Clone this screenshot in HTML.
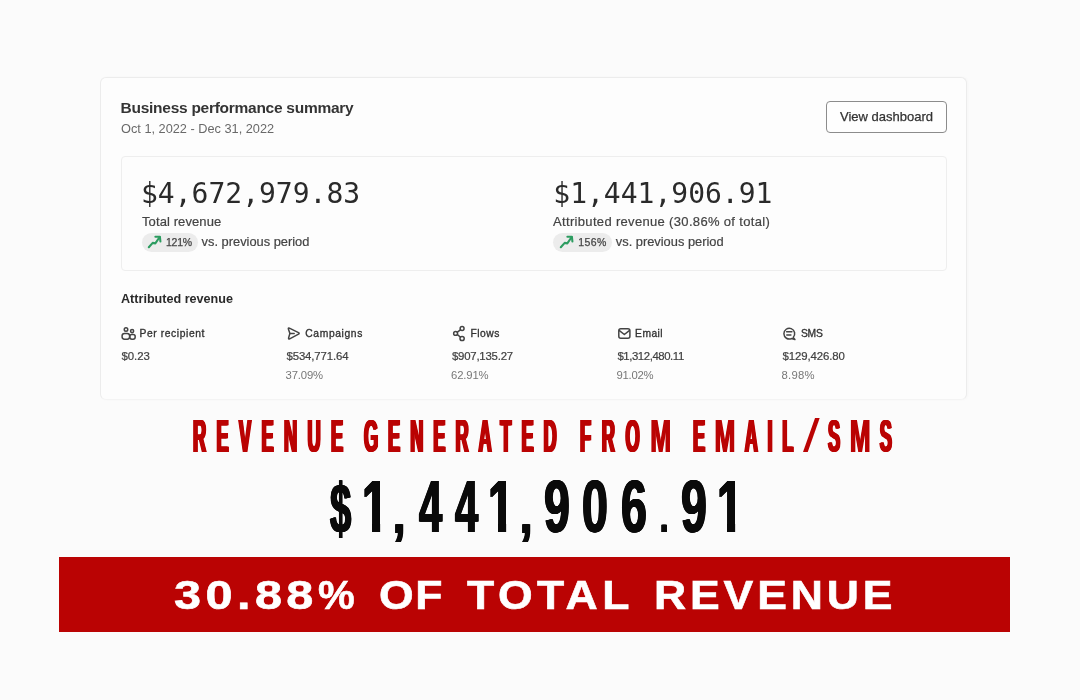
<!DOCTYPE html>
<html lang="en">
<head>
<meta charset="utf-8">
<title>Business performance summary</title>
<style>
  html, body { margin: 0; padding: 0; }
  body {
    width: 1080px; height: 700px; overflow: hidden; position: relative;
    background: #fbfbfb;
    font-family: "Liberation Sans", sans-serif;
    color: #2b2b2b;
  }
  .abs { position: absolute; white-space: nowrap; line-height: 1; }

  /* ---------- dashboard card ---------- */
  .card {
    position: absolute; left: 100px; top: 77px; width: 867px; height: 323px;
    box-sizing: border-box;
    background: #fdfdfd; border: 1px solid #ececec; border-bottom-color: #f4f4f4; border-radius: 6px;
    box-shadow: 1px 0 3px rgba(0,0,0,0.025);
  }
  .title { left: 120.6px; top: 99.7px; font-size: 15.5px; letter-spacing: -0.27px; font-weight: bold; color: #343434; }
  .dates { left: 121px; top: 122.5px; font-size: 12.75px; color: #696969; }
  .btn {
    position: absolute; left: 826px; top: 101px; width: 121px; height: 32px;
    box-sizing: border-box; border: 1px solid #8c8c8c; border-radius: 4px;
    background: #fefefe; color: #333; font-size: 13px; text-align: center; line-height: 30px;
    -webkit-text-stroke: 0.25px #333;
  }
  .inner {
    position: absolute; left: 121px; top: 156px; width: 826px; height: 115px;
    box-sizing: border-box; border: 1px solid #eeeeee; border-radius: 4px;
  }
  .big {
    font-family: "DejaVu Sans Mono", "Liberation Mono", monospace;
    font-size: 28px; color: #2a2a2a; top: 179.6px;
  }
  .lbl { font-size: 13px; letter-spacing: 0.1px; color: #444; top: 215px; -webkit-text-stroke: 0.2px #444; }
  .pill {
    position: absolute; top: 232.8px; width: 56.3px; height: 18.8px;
    border-radius: 9.4px; background: #ececec;
  }
  .pct { font-size: 10.5px; color: #454545; top: 237.3px; letter-spacing: -0.25px; -webkit-text-stroke: 0.25px #454545; }
  .vs  { font-size: 12.85px; color: #444; top: 236px; -webkit-text-stroke: 0.2px #444; }

  .sect { left: 121px; top: 292.7px; font-size: 12.6px; font-weight: bold; color: #2a2a2a; }
  .col-h { font-size: 10.3px; letter-spacing: 0.7px; color: #333; top: 328.9px; -webkit-text-stroke: 0.32px #333; }
  .col-v { font-size: 11.4px; color: #404040; top: 351.2px; -webkit-text-stroke: 0.2px #404040; }
  .col-p { font-size: 11.3px; color: #777; top: 370px; }

  .icons { position: absolute; left: 0; top: 0; width: 1080px; height: 700px; pointer-events: none; }
  .icons .ic { fill: none; stroke: #444; stroke-width: 1.5; stroke-linecap: round; stroke-linejoin: round; }
  .icons .up { fill: none; stroke: #2c9c60; stroke-width: 2.1; stroke-linecap: round; stroke-linejoin: round; }

  /* ---------- overlay typography ---------- */
  .head {
    top: 414px; font-size: 45.5px; font-weight: bold; color: #ba0303;
    transform-origin: 0 0; transform: scaleX(0.40); letter-spacing: 28px;
    text-shadow: -2.5px 0 0 #ba0303, -1.25px 0 0 #ba0303, 1.25px 0 0 #ba0303, 2.5px 0 0 #ba0303;
  }
  .head b { display: inline-block; font-weight: bold; transform-origin: 0 50%; transform: scaleX(1.36); margin-right: 13px;
    text-shadow: -1.1px 0 0 #ba0303, 1.1px 0 0 #ba0303; }
  .head u { display: inline-block; text-decoration: none; font-weight: normal; transform-origin: 0 50%; transform: scaleX(3.3); margin-right: 26px; text-shadow: none; }
  .amount { position: absolute; left: 0; top: 468.5px; width: 1080px; height: 75px; }
  .amount span {
    position: absolute; top: 0; display: block; white-space: nowrap; line-height: 1;
    font-size: 75px; font-weight: bold; color: #0a0a0a;
    transform-origin: 0 0; transform: scaleX(0.62);
    text-shadow: -1.4px 0 0 #0a0a0a, -0.7px 0 0 #0a0a0a, 0.7px 0 0 #0a0a0a, 1.4px 0 0 #0a0a0a;
  }
  .amount .dol { font-size: 70px; transform: scaleX(0.545); top: 5.5px; }
  .amount .four { transform: scaleX(0.555); }
  .amount .com { font-size: 60px; top: 14.2px; transform: scaleX(0.73); }
  .amount .dot { font-size: 48px; top: 23.9px; transform: scaleX(0.62); }
  /* trim the foot serif of Liberation's "1" so it reads like a gothic 1 */
  .amount .one { clip-path: polygon(0 0, 70.5% 0, 70.5% 100%, 38.6% 100%, 38.6% 72.8%, 0 72.8%); }
  .banner {
    position: absolute; left: 59px; top: 557px; width: 951px; height: 75px; background: #ba0303;
  }
  .banner-t {
    top: 574.6px; font-size: 40.5px; font-weight: bold; color: #fff; -webkit-text-stroke: 0.6px #fff;
    transform-origin: 0 0; transform: scaleX(1.2);
  }
  .banner-t.w { transform: scaleX(1.1); }
  .banner-t i { display: inline-block; font-style: normal; transform-origin: 0 50%; transform: scaleX(0.85); margin-right: -5.4px; }
</style>
</head>
<body>

<div class="card"></div>
<div class="abs title" role="heading" aria-level="2">Business performance summary</div>
<div class="abs dates">Oct 1, 2022 - Dec 31, 2022</div>
<div class="btn" role="button">View dashboard</div>

<div class="inner"></div>

<div class="abs big" style="left:141px">$4,672,979.83</div>
<div class="abs lbl" style="left:142px">Total revenue</div>
<div class="pill" style="left:141.9px"></div>
<div class="abs pct" style="left:166px">121%</div>
<div class="abs vs" style="left:201.6px">vs. previous period</div>

<div class="abs big" style="left:553.3px">$1,441,906.91</div>
<div class="abs lbl" style="left:553px;letter-spacing:0.33px">Attributed revenue (30.86% of total)</div>
<div class="pill" style="left:553px;width:59px"></div>
<div class="abs pct" style="left:578.2px;letter-spacing:0.45px">156%</div>
<div class="abs vs" style="left:615.8px">vs. previous period</div>

<div class="abs sect" role="heading" aria-level="3">Attributed revenue</div>

<div class="abs col-h" style="left:139.5px;letter-spacing:0.59px">Per recipient</div>
<div class="abs col-v" style="left:121.4px;letter-spacing:0.00px">$0.23</div>

<div class="abs col-h" style="left:305.3px;letter-spacing:0.62px">Campaigns</div>
<div class="abs col-v" style="left:286.5px;letter-spacing:-0.13px">$534,771.64</div>
<div class="abs col-p" style="left:285.6px;letter-spacing:-0.16px">37.09%</div>

<div class="abs col-h" style="left:470.5px;letter-spacing:0.50px">Flows</div>
<div class="abs col-v" style="left:451.9px;letter-spacing:-0.21px">$907,135.27</div>
<div class="abs col-p" style="left:451.1px;letter-spacing:-0.16px">62.91%</div>

<div class="abs col-h" style="left:635.1px;letter-spacing:0.42px">Email</div>
<div class="abs col-v" style="left:617.4px;letter-spacing:-0.43px">$1,312,480.11</div>
<div class="abs col-p" style="left:616.6px;letter-spacing:-0.29px">91.02%</div>

<div class="abs col-h" style="left:800.9px;letter-spacing:-0.18px">SMS</div>
<div class="abs col-v" style="left:782.4px;letter-spacing:-0.08px">$129,426.80</div>
<div class="abs col-p" style="left:781.6px;letter-spacing:0.20px">8.98%</div>


<svg class="icons" viewBox="0 0 1080 700" aria-hidden="true">
  <!-- trending-up arrows inside the badges -->
  <g class="up">
    <path d="M148.8 247.2 L152.7 242.9 L155.3 243.4 L159.7 237.0"/>
    <path d="M155.4 236.8 L159.9 236.8 L160.4 241.5"/>
  </g>
  <g class="up" transform="translate(412 0)">
    <path d="M148.8 247.2 L152.7 242.9 L155.3 243.4 L159.7 237.0"/>
    <path d="M155.4 236.8 L159.9 236.8 L160.4 241.5"/>
  </g>
  <!-- per recipient: two people -->
  <g class="ic">
    <circle cx="126" cy="329.6" r="1.75"/>
    <rect x="122.1" y="333.4" width="7.5" height="5.8" rx="2.4"/>
    <circle cx="132.1" cy="331.1" r="1.55"/>
    <rect x="129.8" y="334.6" width="5.4" height="4.6" rx="2.1"/>
  </g>
  <!-- campaigns: paper plane -->
  <g class="ic">
    <path d="M289.9 333.4 L288.4 329.1 Q288.0 327.7 289.4 328.2 L298.5 332.7 Q299.8 333.4 298.5 334.1 L289.7 338.8 Q288.3 339.4 288.6 338.0 Z"/>
    <path d="M289.9 333.4 H294.2"/>
  </g>
  <!-- flows: three linked nodes -->
  <g class="ic">
    <circle cx="462.1" cy="328.5" r="1.95"/>
    <circle cx="455.6" cy="333.4" r="1.95"/>
    <circle cx="462.1" cy="338.5" r="2.1"/>
    <path d="M457.4 332.2 L460.4 329.9 M457.4 334.7 L460.3 337.0"/>
  </g>
  <!-- email: envelope -->
  <g class="ic">
    <rect x="618.8" y="328.8" width="11.1" height="9.4" rx="2"/>
    <path d="M619.4 330.6 L624.35 334.5 L629.3 330.6"/>
  </g>
  <!-- sms: chat bubble -->
  <g class="ic">
    <path d="M793.2 337.4 A5.4 5.4 0 1 0 791.5 338.6 L794.9 339.5 Z"/>
    <path d="M786.6 331.8 H791.9 M786.8 335.1 H790.9"/>
  </g>
</svg>

<!--HEAD-->
<div class="abs head" style="left:192.6px;letter-spacing:25.94px">REVENUE</div>
<div class="abs head" style="left:364.4px;letter-spacing:24.91px">GENERATED</div>
<div class="abs head" style="left:579.6px;letter-spacing:26.50px">FRO<b>M</b></div>
<div class="abs head" style="left:692.6px;letter-spacing:24.06px">E<b>M</b>AIL<u>/</u>S<b>M</b>S</div>
<!--/HEAD-->
<!--AMT--><div class="amount"><span class="dol" style="left:330.0px">$</span><span class="one" style="left:362.0px">1</span><span class="com" style="left:393.2px">,</span><span class="four" style="left:418.6px">4</span><span class="four" style="left:455.2px">4</span><span class="one" style="left:488.1px">1</span><span class="com" style="left:520.0px">,</span><span style="left:543.6px">9</span><span style="left:581.8px">0</span><span style="left:620.5px">6</span><span class="dot" style="left:660.2px">.</span><span style="left:681.1px">9</span><span class="one" style="left:717.0px">1</span></div><!--/AMT-->
<div class="banner"></div>
<!--BAN-->
<div class="abs banner-t" style="left:173.8px;letter-spacing:3.70px">30.88<i>%</i></div>
<div class="abs banner-t w" style="left:378.7px;letter-spacing:1.38px">OF</div>
<div class="abs banner-t w" style="left:467.0px;letter-spacing:4.09px">TOTAL</div>
<div class="abs banner-t w" style="left:654.0px;letter-spacing:3.50px">REVENUE</div>
<!--/BAN-->

</body>
</html>
